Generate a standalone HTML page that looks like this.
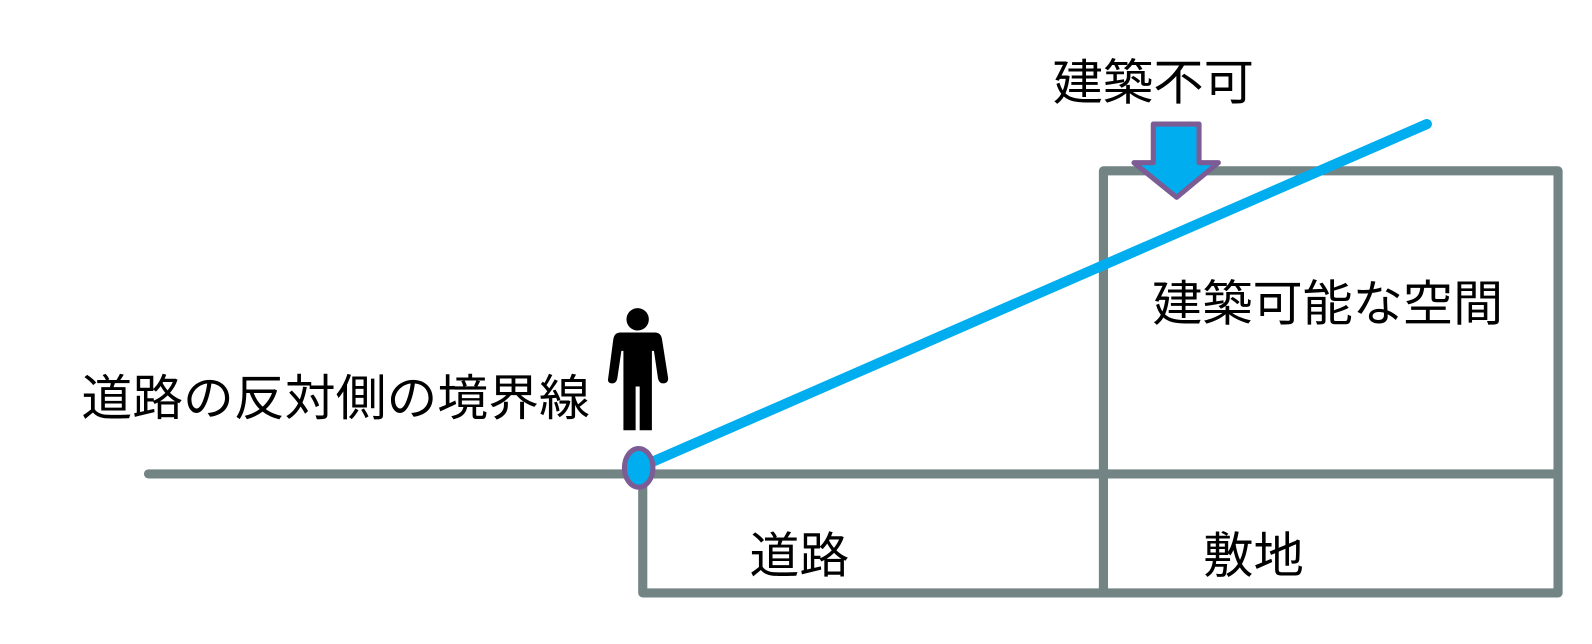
<!DOCTYPE html>
<html><head><meta charset="utf-8"><style>
html,body{margin:0;padding:0;background:#fff;}
svg{display:block;}
text{font-family:"Liberation Sans","Noto Sans CJK JP",sans-serif;fill:#000;}
</style></head><body>
<svg width="1592" height="644" viewBox="0 0 1592 644" xmlns="http://www.w3.org/2000/svg">
<g transform="scale(1.017)">
<g stroke="#738485" stroke-width="9" fill="none" stroke-linecap="round" stroke-linejoin="round">
<line x1="146" y1="466" x2="1532" y2="466"/>
<polyline points="632,466 632,583 1532,583"/>
<polyline points="1085,583 1085,168 1532,168 1532,583"/>
</g>
<line x1="628" y1="460" x2="1403" y2="122" stroke="#00AEEF" stroke-width="10" stroke-linecap="round"/>
<ellipse cx="628" cy="460" rx="14" ry="19" fill="#00AEEF" stroke="#7B5C94" stroke-width="5"/>
<polygon points="1134,122 1179,122 1179,160 1198,160 1157,194 1115,160 1134,160" fill="#00AEEF" stroke="#7B5C94" stroke-width="5" stroke-linejoin="round"/>
<g fill="#000">
<circle cx="627" cy="314" r="11"/>
<path d="M610,327 L644,327 Q650,327 651,334 L657,372 Q657,377 652,377 Q648,377 647,372 L643,345 L641,345 L641,423 L629,423 L629,380 L625,380 L625,423 L613,423 L613,345 L611,345 L607,372 Q606,377 602,377 Q597,377 598,372 L603,334 Q604,327 610,327Z"/>
</g>
<text x="80" y="408" font-size="48" textLength="500" lengthAdjust="spacingAndGlyphs">道路の反対側の境界線</text>
<text x="1035" y="98" font-size="48" textLength="198" lengthAdjust="spacingAndGlyphs">建築不可</text>
<text x="1133" y="315" font-size="48" textLength="345" lengthAdjust="spacingAndGlyphs">建築可能な空間</text>
<text x="737" y="563" font-size="48" textLength="98" lengthAdjust="spacingAndGlyphs">道路</text>
<text x="1183" y="563" font-size="48" textLength="99" lengthAdjust="spacingAndGlyphs">敷地</text>
</g>
</svg>
</body></html>
